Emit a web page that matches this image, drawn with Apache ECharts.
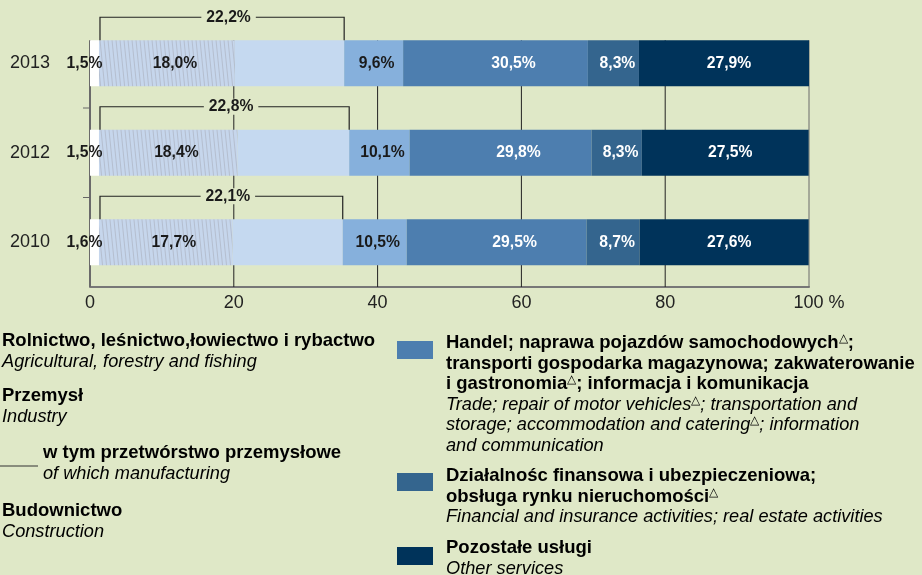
<!DOCTYPE html>
<html>
<head>
<meta charset="utf-8">
<script src="https://cdn.jsdelivr.net/npm/echarts@6/dist/echarts.min.js"></script>
<style>
html, body {margin: 0; padding: 0; background: #dfe8c7;}
#chart {width: 922px; height: 575px;}
</style>
</head>
<body>
<div id="chart"></div>
<script>
// rows, top to bottom
const years = ['2013', '2012', '2010']
// bar lengths as drawn against the 0-100 axis
const agriculture = [1.25, 1.25, 1.25]
const manufacturing = [18.9, 19.3, 18.6]
const industryOther = [15.2, 15.5, 15.3]
const construction = [8.2, 8.4, 8.9]
const trade = [25.7, 25.3, 25.0]
const finance = [7.1, 7.0, 7.4]
const otherServices = [23.8, 23.2, 23.5]
// shares printed on the bars, %
const agricultureShare = [1.5, 1.5, 1.6]
const manufacturingShare = [18.0, 18.4, 17.7]
const industryShare = [22.2, 22.8, 22.1]
const constructionShare = [9.6, 10.1, 10.5]
const tradeShare = [30.5, 29.8, 29.5]
const financeShare = [8.3, 8.3, 8.7]
const otherShare = [27.9, 27.5, 27.6]
const xTicks = [0, 20, 40, 60, 80, 100]

const BG = '#dfe8c7'
const FONT = '"Liberation Sans", Arial, sans-serif'
const HALF_BAR = 23
const fmt = v => v.toFixed(1).replace('.', ',') + '%'

// fine grey stripes over light blue, for manufacturing
function hatch(){
	const c = document.createElement('canvas')
	c.width = 8
	c.height = 40
	const g = c.getContext('2d')
	g.fillStyle = '#c6d6ec'
	g.fillRect(0, 0, 8, 40)
	g.strokeStyle = '#b0b8c6'
	g.lineWidth = 0.8
	for (let x = -8; x <= 8; x += 4) {
		g.beginPath()
		g.moveTo(x, 0)
		g.lineTo(x + 4, 40)
		g.stroke()
	}
	return c
}

function barSeries(name, data, share, color, labelColor, dx){
	return {
		name: name,
		type: 'bar',
		stack: 'total',
		barWidth: HALF_BAR * 2,
		z: 2,
		data: data,
		itemStyle: {color: color},
		label: {
			show: !!share,
			position: 'inside',
			offset: [dx || 0, 0],
			formatter: p => share ? fmt(share[p.dataIndex]) : '',
			color: labelColor,
			fontFamily: FONT,
			fontWeight: 'bold',
			fontSize: 15.7
		},
		emphasis: {disabled: true},
		animation: false
	}
}

const chart = echarts.init(document.getElementById('chart'))

const rich = {
	b: {fontFamily: FONT, fontSize: 18.5, fontWeight: 'bold', color: '#1a1a1a', lineHeight: 20.5},
	i: {fontFamily: FONT, fontSize: 18.2, fontStyle: 'italic', color: '#2b2b2b', lineHeight: 20.5},
	s: {fontFamily: FONT, fontSize: 12, color: '#2b2b2b', lineHeight: 11, verticalAlign: 'top'}
}
const legendText = (x, y, text) => ({type: 'text', x: x, y: y, style: {text: text, rich: rich}})

const option = {
	backgroundColor: BG,
	grid: {left: 90, right: 113, top: 18.5, bottom: 288, outerBoundsMode: 'none'},
	xAxis: {
		type: 'value',
		min: 0,
		max: 100,
		interval: 20,
		axisLine: {show: true, lineStyle: {color: '#777', width: 2}},
		axisTick: {show: false},
		splitLine: {show: false},
		axisLabel: {
			margin: 7,
			fontFamily: FONT,
			fontSize: 18,
			color: '#222',
			formatter: v => v === xTicks[xTicks.length - 1] ? '{last|' + v + ' %}' : String(v),
			rich: {last: {fontFamily: FONT, fontSize: 18, color: '#222', padding: [0, 0, 0, 20]}}
		}
	},
	yAxis: {
		type: 'category',
		data: years,
		inverse: true,
		axisLine: {show: false},
		axisTick: {show: false},
		axisLabel: {margin: 40, fontFamily: FONT, fontSize: 18, color: '#222'}
	},
	series: [
		{
			// vertical grid lines and the y-axis line, starting at the top bar
			type: 'custom',
			coordinateSystem: 'cartesian2d',
			encode: {x: 0, y: 1},
			data: xTicks.map(v => [v, 0]),
			z: 1,
			clip: false,
			silent: true,
			animation: false,
			renderItem: (params, api) => {
				const v = api.value(0)
				const p = api.coord([v, 0])
				const cs = params.coordSys
				const first = v === xTicks[0]
				const edge = first || v === xTicks[xTicks.length - 1]
				return {
					type: 'line',
					shape: {x1: p[0], y1: p[1] - HALF_BAR, x2: p[0], y2: cs.y + cs.height},
					style: {stroke: edge ? '#6a6a6a' : '#222', lineWidth: first ? 2 : 1}
				}
			}
		},
		{
			// y-axis ticks between rows
			type: 'custom',
			coordinateSystem: 'cartesian2d',
			encode: {x: 0, y: 1},
			data: years.slice(1).map((y, i) => [0, i + 1]),
			z: 1,
			clip: false,
			silent: true,
			animation: false,
			renderItem: (params, api) => {
				const i = api.value(1)
				const a = api.coord([0, i - 1])
				const b = api.coord([0, i])
				const y = (a[1] + b[1]) / 2
				return {type: 'line', shape: {x1: a[0] - 7, y1: y, x2: a[0], y2: y}, style: {stroke: '#666', lineWidth: 1}}
			}
		},
		barSeries('Rolnictwo', agriculture, agricultureShare, '#ffffff', '#1a1a1a', -10),
		barSeries('Przetwórstwo', manufacturing, manufacturingShare, {image: hatch(), repeat: 'repeat'}, '#1a1a1a', 8),
		barSeries('Przemysł', industryOther, null, '#c5d9f0', '#1a1a1a', 0),
		barSeries('Budownictwo', construction, constructionShare, '#86b0dc', '#1a1a1a', 3),
		barSeries('Handel', trade, tradeShare, '#4d7eaf', '#ffffff', 18),
		barSeries('Finanse', finance, financeShare, '#34658e', '#ffffff', 4),
		barSeries('Pozostałe', otherServices, otherShare, '#00335a', '#ffffff', 5),
		{
			// bracket over industry total
			type: 'custom',
			coordinateSystem: 'cartesian2d',
			encode: {x: [0, 1], y: 2},
			data: years.map((y, i) => [agriculture[i], agriculture[i] + manufacturing[i] + industryOther[i], i, industryShare[i]]),
			clip: false,
			z: 5,
			animation: false,
			renderItem: (params, api) => {
				const a = api.coord([api.value(0), api.value(2)])
				const b = api.coord([api.value(1), api.value(2)])
				const barTop = a[1] - HALF_BAR
				const top = barTop - 23
				return {
					type: 'group',
					children: [{
						type: 'polyline',
						shape: {points: [[a[0] + 1, barTop], [a[0] + 1, top], [b[0], top], [b[0], barTop]]},
						style: {stroke: '#222', lineWidth: 1.2, fill: null}
					}, {
						type: 'text',
						style: {
							text: fmt(api.value(3)),
							x: (a[0] + b[0]) / 2 + 7,
							y: top,
							align: 'center',
							verticalAlign: 'middle',
							font: 'bold 15.7px ' + FONT,
							fill: '#1a1a1a',
							backgroundColor: BG,
							padding: [0, 5]
						}
					}]
				}
			}
		}
	],
	graphic: [
		legendText(2, 331, '{b|Rolnictwo, leśnictwo,łowiectwo i rybactwo}\n{i|Agricultural, forestry and fishing}'),
		legendText(2, 386, '{b|Przemysł}\n{i|Industry}'),
		{type: 'line', shape: {x1: 0, y1: 466, x2: 38, y2: 466}, style: {stroke: '#333', lineWidth: 1}},
		legendText(43, 443, '{b|w tym przetwórstwo przemysłowe}\n{i|of which manufacturing}'),
		legendText(2, 501, '{b|Budownictwo}\n{i|Construction}'),
		{type: 'rect', shape: {x: 397, y: 341, width: 36, height: 18}, style: {fill: '#4d7eaf'}},
		legendText(446, 333, '{b|Handel; naprawa pojazdów samochodowych}{s|△}{b|;}\n{b|transporti gospodarka magazynowa; zakwaterowanie}\n{b|i gastronomia}{s|△}{b|; informacja i komunikacja}\n{i|Trade; repair of motor vehicles}{s|△}{i|; transportation and}\n{i|storage; accommodation and catering}{s|△}{i|; information}\n{i|and communication}'),
		{type: 'rect', shape: {x: 397, y: 473, width: 36, height: 18}, style: {fill: '#34658e'}},
		legendText(446, 466, '{b|Działalnośc finansowa i ubezpieczeniowa;}\n{b|obsługa rynku nieruchomości}{s|△}\n{i|Financial and insurance activities; real estate activities}'),
		{type: 'rect', shape: {x: 397, y: 547, width: 36, height: 18}, style: {fill: '#00335a'}},
		legendText(446, 538, '{b|Pozostałe usługi}\n{i|Other services}')
	]
}
chart.setOption(option)
</script>
</body>
</html>
